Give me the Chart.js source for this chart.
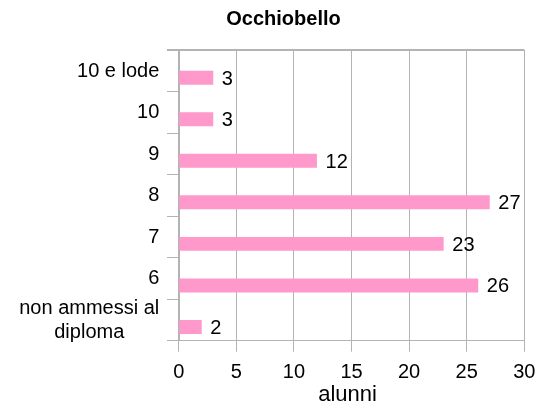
<!DOCTYPE html>
<html><head><meta charset="utf-8">
<script src="https://cdn.jsdelivr.net/npm/chart.js@4/dist/chart.umd.min.js"></script>
<style>html,body{margin:0;padding:0;background:#fff}canvas{display:block}</style>
</head><body>
<canvas id="c" width="547" height="405"></canvas>
<script>
const chartTitle = "Occhiobello";
const categories = ["10 e lode", "10", "9", "8", "7", "6", ["non ammessi al", "diploma"]];
const alunni = [3, 3, 12, 27, 23, 26, 2];
const spacer = [null, null, null, null, null, null, null];
const xAxisTitle = "alunni";
const xTickMin = 0, xTickMax = 30, xTickStep = 5;

const FONT = "'Liberation Sans', Arial, sans-serif";
const GRID = '#b3b3b3';
const TEXT = '#000000';
const BAR = '#ff99cc';
Chart.defaults.font.family = FONT;

const frameTopPlugin = {
  id: 'frameTop',
  beforeDatasetsDraw(chart) {
    const ctx = chart.ctx, a = chart.chartArea;
    ctx.save();
    ctx.strokeStyle = GRID;
    ctx.lineWidth = 1;
    ctx.beginPath();
    ctx.moveTo(a.left - 11.7, Math.round(a.top) + 0.5);
    ctx.lineTo(a.right, Math.round(a.top) + 0.5);
    ctx.stroke();
    ctx.restore();
  }
};

const yLabelPlugin = {
  id: 'yLabels',
  afterDraw(chart) {
    const ctx = chart.ctx, ys = chart.scales.y, xs = chart.scales.x;
    const rightEdge = chart.chartArea.left - 11.7 - 7.7;
    ctx.save();
    ctx.font = '20px ' + FONT;
    ctx.fillStyle = TEXT;
    ctx.textBaseline = 'middle';
    ctx.textAlign = 'center';
    categories.forEach((lab, i) => {
      const lines = Array.isArray(lab) ? lab : [lab];
      const w = Math.max(...lines.map(l => ctx.measureText(l).width));
      const cx = rightEdge - w / 2;
      const cy = ys.getPixelForValue(i) + 0.5;
      lines.forEach((l, k) => ctx.fillText(l, cx, cy + (k - (lines.length - 1) / 2) * 24));
    });
    // x axis title
    ctx.font = '22px ' + FONT;
    ctx.textBaseline = 'alphabetic';
    ctx.fillText(xAxisTitle, (xs.left + xs.right) / 2 - 4, xs.bottom - 4);
    ctx.restore();
  }
};

const valueLabelPlugin = {
  id: 'valueLabels',
  afterDatasetsDraw(chart) {
    const ctx = chart.ctx;
    const meta = chart.getDatasetMeta(1);
    ctx.save();
    ctx.font = '20px ' + FONT;
    ctx.fillStyle = TEXT;
    ctx.textBaseline = 'middle';
    ctx.textAlign = 'left';
    meta.data.forEach((bar, i) => {
      ctx.fillText(String(alunni[i]), bar.x + 8.6, bar.y + 1.5);
    });
    ctx.restore();
  }
};

new Chart(document.getElementById('c'), {
  type: 'bar',
  data: {
    labels: categories,
    datasets: [
      { label: 'spacer', data: spacer, backgroundColor: 'rgba(0,0,0,0)' },
      { label: xAxisTitle, data: alunni, backgroundColor: BAR, borderWidth: 0 }
    ]
  },
  options: {
    indexAxis: 'y',
    responsive: false,
    animation: false,
    devicePixelRatio: 1,
    categoryPercentage: 0.674,
    barPercentage: 1,
    layout: { padding: { left: 42.7, right: 22.7, top: 0, bottom: 0 } },
    plugins: {
      legend: { display: false },
      tooltip: { enabled: false },
      title: {
        display: true, text: chartTitle, color: TEXT,
        font: { family: FONT, size: 20, weight: 'bold', lineHeight: 1.2 },
        padding: { top: 7.2, bottom: 18.8 }
      }
    },
    scales: {
      x: {
        type: 'linear', min: xTickMin, max: xTickMax,
        ticks: { stepSize: xTickStep, color: TEXT, font: { family: FONT, size: 20, lineHeight: 1.2 }, padding: 8.4 },
        grid: { color: GRID, tickColor: GRID, tickLength: 11, lineWidth: 1 },
        border: { display: true, color: GRID, width: 1 },
        title: { display: false },
        afterFit: s => { s.height = 64.3; }
      },
      y: {
        type: 'category', offset: true,
        ticks: { display: false },
        grid: {
          offset: true, drawTicks: true, tickLength: 11.7, tickColor: GRID, lineWidth: 1,
          color: c => (c.type === 'scale' || c.index === 0) ? GRID : 'rgba(0,0,0,0)'
        },
        border: { display: true, color: GRID, width: 2 },
        afterFit: s => { s.width = 136; }
      }
    }
  },
  plugins: [frameTopPlugin, yLabelPlugin, valueLabelPlugin]
});
</script>
</body></html>
